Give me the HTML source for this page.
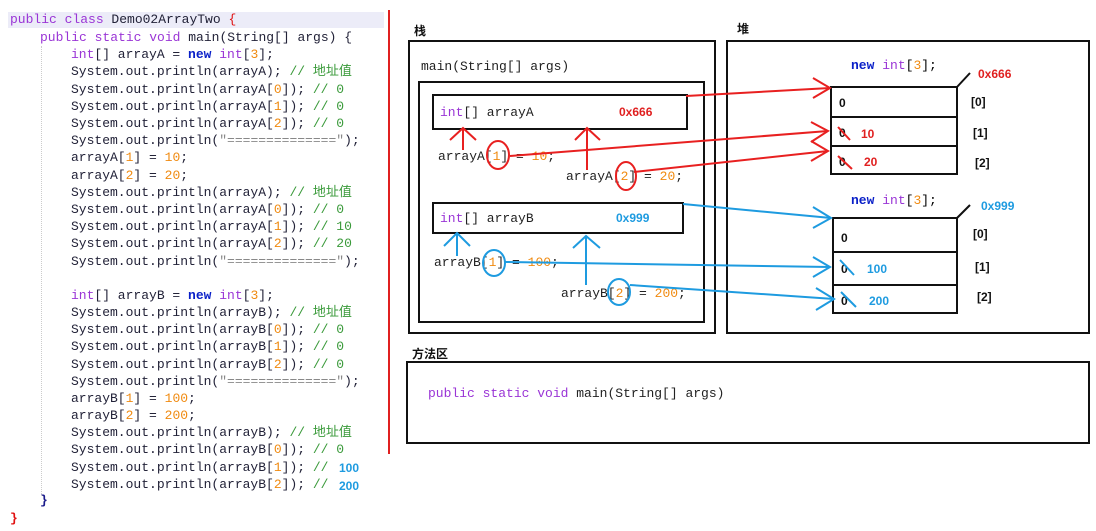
<!DOCTYPE html><html><head><meta charset="utf-8"><style>
body{margin:0;width:1096px;height:531px;background:#fff;overflow:hidden;position:relative;font-family:"Liberation Mono","Noto Sans CJK SC",monospace}
.code{position:absolute;left:0;top:0}
.l{position:absolute;white-space:pre;font-size:13px;color:#222238;line-height:15px}
.k{color:#9a35d6}.nw{color:#0a20c8;font-weight:bold}.n{color:#f08a10}.c{color:#3a9a3a}.s{color:#888}.r{color:#e01010}
.hl{position:absolute;left:8px;top:12px;width:376px;height:16px;background:#ececf8}
</style></head><body>
<div class="hl"></div>
<div class="code">
<div class="l" style="left:10px;top:12px"><span class="k">public class</span> Demo02ArrayTwo <span class="r">{</span></div>
<div class="l" style="left:40px;top:30px"><span class="k">public static void</span> main(String[] args) {</div>
<div class="l" style="left:71px;top:47px"><span class="k">int</span>[] arrayA = <span class="nw">new</span> <span class="k">int</span>[<span class="n">3</span>];</div>
<div class="l" style="left:71px;top:64px">System.out.println(arrayA); <span class="c">// 地址值</span></div>
<div class="l" style="left:71px;top:82px">System.out.println(arrayA[<span class="n">0</span>]); <span class="c">// 0</span></div>
<div class="l" style="left:71px;top:99px">System.out.println(arrayA[<span class="n">1</span>]); <span class="c">// 0</span></div>
<div class="l" style="left:71px;top:116px">System.out.println(arrayA[<span class="n">2</span>]); <span class="c">// 0</span></div>
<div class="l" style="left:71px;top:133px">System.out.println(<span class="s">"=============="</span>);</div>
<div class="l" style="left:71px;top:150px">arrayA[<span class="n">1</span>] = <span class="n">10</span>;</div>
<div class="l" style="left:71px;top:168px">arrayA[<span class="n">2</span>] = <span class="n">20</span>;</div>
<div class="l" style="left:71px;top:185px">System.out.println(arrayA); <span class="c">// 地址值</span></div>
<div class="l" style="left:71px;top:202px">System.out.println(arrayA[<span class="n">0</span>]); <span class="c">// 0</span></div>
<div class="l" style="left:71px;top:219px">System.out.println(arrayA[<span class="n">1</span>]); <span class="c">// 10</span></div>
<div class="l" style="left:71px;top:236px">System.out.println(arrayA[<span class="n">2</span>]); <span class="c">// 20</span></div>
<div class="l" style="left:71px;top:254px">System.out.println(<span class="s">"=============="</span>);</div>
<div class="l" style="left:71px;top:288px"><span class="k">int</span>[] arrayB = <span class="nw">new</span> <span class="k">int</span>[<span class="n">3</span>];</div>
<div class="l" style="left:71px;top:305px">System.out.println(arrayB); <span class="c">// 地址值</span></div>
<div class="l" style="left:71px;top:322px">System.out.println(arrayB[<span class="n">0</span>]); <span class="c">// 0</span></div>
<div class="l" style="left:71px;top:339px">System.out.println(arrayB[<span class="n">1</span>]); <span class="c">// 0</span></div>
<div class="l" style="left:71px;top:357px">System.out.println(arrayB[<span class="n">2</span>]); <span class="c">// 0</span></div>
<div class="l" style="left:71px;top:374px">System.out.println(<span class="s">"=============="</span>);</div>
<div class="l" style="left:71px;top:391px">arrayB[<span class="n">1</span>] = <span class="n">100</span>;</div>
<div class="l" style="left:71px;top:408px">arrayB[<span class="n">2</span>] = <span class="n">200</span>;</div>
<div class="l" style="left:71px;top:425px">System.out.println(arrayB); <span class="c">// 地址值</span></div>
<div class="l" style="left:71px;top:442px">System.out.println(arrayB[<span class="n">0</span>]); <span class="c">// 0</span></div>
<div class="l" style="left:71px;top:460px">System.out.println(arrayB[<span class="n">1</span>]); <span class="c">// </span></div>
<div class="l" style="left:71px;top:477px">System.out.println(arrayB[<span class="n">2</span>]); <span class="c">// </span></div>
<div class="l" style="left:339px;top:461px;font-family:'Liberation Sans',sans-serif;font-weight:bold;color:#1e9be0;font-size:12px">100</div>
<div class="l" style="left:339px;top:479px;font-family:'Liberation Sans',sans-serif;font-weight:bold;color:#1e9be0;font-size:12px">200</div>
<div class="l" style="left:40px;top:493px;color:#1a1a8a;font-weight:bold">}</div>
<div class="l" style="left:10px;top:511px;color:#e01010;font-weight:bold">}</div>
</div>
<div style="position:absolute;left:41px;top:46px;height:450px;border-left:1px dotted #ccc"></div>
<div style="position:absolute;left:388px;top:10px;width:2px;height:444px;background:#e02020"></div>
<svg width="1096" height="531" style="position:absolute;left:0;top:0" font-family="Liberation Mono, monospace" font-size="13">
<g fill="none" stroke="#111" stroke-width="2">
<rect x="409" y="41" width="306" height="292"/>
<rect x="419" y="82" width="285" height="240"/>
<rect x="433" y="95" width="254" height="34"/>
<rect x="433" y="203" width="250" height="30"/>
<rect x="727" y="41" width="362" height="292"/>
<rect x="831" y="87" width="126" height="87"/>
<line x1="831" y1="117" x2="957" y2="117"/><line x1="831" y1="146" x2="957" y2="146"/>
<rect x="833" y="218" width="124" height="95"/>
<line x1="833" y1="252" x2="957" y2="252"/><line x1="833" y1="285" x2="957" y2="285"/>
<line x1="957" y1="87" x2="970" y2="73"/><line x1="957" y1="218" x2="970" y2="205"/>
<rect x="407" y="362" width="682" height="81"/>
</g>
<g font-family="Noto Sans CJK SC, sans-serif" font-weight="bold" font-size="12" fill="#111">
<text x="414" y="35">栈</text><text x="737" y="33">堆</text><text x="412" y="358">方法区</text></g>
<text x="421" y="70" fill="#222">main(String[] args)</text>
<text x="440" y="116"><tspan fill="#9a35d6">int</tspan><tspan fill="#222">[] arrayA</tspan></text>
<text x="619" y="116" fill="#e02020" font-weight="bold" font-family="Liberation Sans,sans-serif" font-size="12">0x666</text>
<text x="440" y="222"><tspan fill="#9a35d6">int</tspan><tspan fill="#222">[] arrayB</tspan></text>
<text x="616" y="222" fill="#1e9be0" font-weight="bold" font-family="Liberation Sans,sans-serif" font-size="12">0x999</text>
<text x="438" y="160" fill="#222">arrayA[<tspan fill="#f08a10">1</tspan>] = <tspan fill="#f08a10">10</tspan>;</text>
<text x="566" y="180" fill="#222">arrayA[<tspan fill="#f08a10">2</tspan>] = <tspan fill="#f08a10">20</tspan>;</text>
<text x="434" y="266" fill="#222">arrayB[<tspan fill="#f08a10">1</tspan>] = <tspan fill="#f08a10">100</tspan>;</text>
<text x="561" y="297" fill="#222">arrayB[<tspan fill="#f08a10">2</tspan>] = <tspan fill="#f08a10">200</tspan>;</text>
<text x="851" y="69"><tspan fill="#0a20c8" font-weight="bold">new</tspan> <tspan fill="#9a35d6">int</tspan>[<tspan fill="#f08a10">3</tspan>];</text>
<text x="851" y="204"><tspan fill="#0a20c8" font-weight="bold">new</tspan> <tspan fill="#9a35d6">int</tspan>[<tspan fill="#f08a10">3</tspan>];</text>
<g font-family="Liberation Sans,sans-serif" font-weight="bold" font-size="12">
<text x="978" y="78" fill="#e02020">0x666</text><text x="981" y="210" fill="#1e9be0">0x999</text>
<text x="839" y="107" fill="#111">0</text><text x="839" y="137" fill="#111">0</text><text x="839" y="166" fill="#111">0</text>
<text x="861" y="138" fill="#e02020">10</text><text x="864" y="166" fill="#e02020">20</text>
<text x="841" y="242" fill="#111">0</text><text x="841" y="273" fill="#111">0</text><text x="841" y="305" fill="#111">0</text>
<text x="867" y="273" fill="#1e9be0">100</text><text x="869" y="305" fill="#1e9be0">200</text>
<text x="971" y="106" fill="#111">[0]</text><text x="973" y="137" fill="#111">[1]</text><text x="975" y="167" fill="#111">[2]</text>
<text x="973" y="238" fill="#111">[0]</text><text x="975" y="271" fill="#111">[1]</text><text x="977" y="301" fill="#111">[2]</text>
</g>
<text x="428" y="397" fill="#222"><tspan fill="#9a35d6">public static void</tspan> main(String[] args)</text>
<g fill="none" stroke="#e82020" stroke-width="2">
<line x1="686" y1="96" x2="830" y2="88"/><polyline points="813,78 830,88 813,98"/>
<line x1="510" y1="156" x2="828" y2="131"/><polyline points="811,122 828,131 811,142"/>
<line x1="634" y1="172" x2="828" y2="151"/><polyline points="811,141 828,151 811,161"/>
<ellipse cx="498" cy="155" rx="11" ry="14"/><ellipse cx="626" cy="176" rx="10" ry="14"/>
<line x1="463" y1="150" x2="463" y2="128"/><polyline points="450,140 463,128 476,140"/>
<line x1="587" y1="170" x2="587" y2="128"/><polyline points="575,140 587,128 600,140"/>
<line x1="838" y1="127" x2="850" y2="140"/><line x1="838" y1="156" x2="852" y2="169"/>
</g>
<g fill="none" stroke="#1e9be0" stroke-width="2">
<line x1="683" y1="204" x2="831" y2="218"/><polyline points="813,207 831,218 813,228"/>
<line x1="505" y1="262" x2="830" y2="267"/><polyline points="813,257 830,267 813,277"/>
<line x1="630" y1="285" x2="834" y2="299"/><polyline points="816,288 834,299 816,310"/>
<ellipse cx="494" cy="263" rx="11" ry="13"/><ellipse cx="619" cy="292" rx="11" ry="13"/>
<line x1="457" y1="256" x2="457" y2="233"/><polyline points="444,246 457,233 470,246"/>
<line x1="586" y1="285" x2="586" y2="236"/><polyline points="573,248 586,236 600,248"/>
<line x1="840" y1="260" x2="854" y2="275"/><line x1="841" y1="292" x2="856" y2="307"/>
</g>
</svg>
</body></html>
